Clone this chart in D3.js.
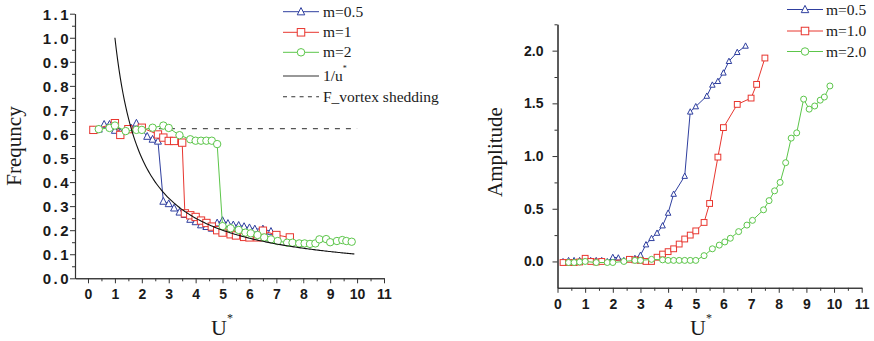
<!DOCTYPE html>
<html>
<head>
<meta charset="utf-8">
<script src="https://cdn.jsdelivr.net/npm/d3@7"></script>
<style>
  html, body { margin: 0; padding: 0; background: #fff; }
  svg { display: block; }
  .tick-lbl { font-family: "Liberation Sans", Arial, sans-serif; font-weight: bold; font-size: 14px; fill: #1a1a1a; }
  .serif { font-family: "Liberation Serif", "Times New Roman", serif; fill: #1a1a1a; }
</style>
</head>
<body>
<svg id="chart" width="874" height="341"></svg>
<script>
// ---- Frequency panel data (U* vs frequency) ----
const freqU_m05 = [0.2,0.4,0.6,0.8,1.0,1.2,1.6,1.8,2.2,2.4,2.6,
                   2.8,3.0,3.2,3.4,3.6,3.8,4.0,4.2,4.4,4.6,4.8,5.0,5.2,5.4,5.6,5.8,6.0,6.2,6.5,6.8];
const freq_m05  = [0.615,0.62,0.64,0.64,0.615,0.607,0.625,0.645,0.59,0.578,0.57,
                   0.32,0.31,0.292,0.275,0.265,0.245,0.235,0.222,0.215,0.208,0.23,0.24,0.228,0.222,0.22,0.215,0.21,0.205,0.205,0.195];
const freqU_m1  = [0.2,1.0,1.2,1.5,2.0,2.6,2.8,3.0,3.2,3.5,
                   3.6,3.8,4.0,4.2,4.4,4.6,4.8,5.0,5.3,5.5,5.8,6.0,6.3,6.5,7.0,7.5];
const freq_m1   = [0.617,0.645,0.596,0.62,0.626,0.598,0.585,0.571,0.571,0.564,
                   0.27,0.262,0.255,0.24,0.23,0.215,0.2,0.19,0.183,0.178,0.172,0.17,0.17,0.198,0.18,0.17];
const freqU_m2  = [0.4,0.8,1.0,1.4,1.8,2.0,2.4,2.8,3.0,3.4,3.8,4.0,4.2,4.4,4.6,4.8,
                   5.0,5.3,5.6,5.85,6.05,6.3,6.55,6.8,7.05,7.4,7.6,7.85,8.05,8.25,8.45,8.6,8.85,9.0,9.25,9.45,9.6,9.8];
const freq_m2   = [0.62,0.625,0.635,0.612,0.617,0.617,0.626,0.635,0.625,0.595,0.578,0.572,0.572,0.572,0.572,0.558,
                   0.217,0.208,0.201,0.19,0.187,0.18,0.17,0.162,0.155,0.148,0.148,0.145,0.145,0.143,0.145,0.162,0.163,0.15,0.155,0.159,0.155,0.152];
const vortexFreq = 0.622;          // F_vortex shedding level
const vortexRange = [1, 10];
const curveRange = [1, 9.9];       // extent of the 1/u* reference curve

// ---- Amplitude panel data (U* vs amplitude) ----
const ampU_m05 = [0.2,0.4,0.6,0.8,1.0,1.2,1.4,1.6,1.8,2.0,2.2,2.4,2.6,2.8,3.0,
                  3.2,3.4,3.6,3.8,4.0,4.2,4.6,4.8,5.0,5.4,5.6,5.8,6.0,6.2,6.5,6.8];
const amp_m05  = [0.0,0.01,0.01,0.01,0.02,0.01,0.01,0.01,0.0,0.04,0.035,0.01,0.02,0.03,0.06,
                  0.16,0.22,0.27,0.34,0.46,0.64,0.81,1.42,1.47,1.57,1.675,1.71,1.79,1.9,1.985,2.045];
const ampU_m1  = [0.2,0.4,0.6,0.8,1.0,1.2,1.4,1.6,
                  2.6,2.8,3.0,3.2,3.4,3.6,3.8,4.0,4.2,4.4,4.6,4.8,5.0,5.3,5.5,5.8,6.0,6.5,7.0,7.2,7.5];
const amp_m1   = [-0.01,-0.01,-0.01,-0.005,0.03,0.0,-0.005,0.0,
                  0.02,0.015,0.01,0.0,0.0,0.04,0.07,0.093,0.12,0.165,0.213,0.25,0.29,0.37,0.55,0.99,1.27,1.49,1.55,1.68,1.93];
const ampU_m2  = [0.4,0.6,0.8,1.0,1.4,1.8,2.0,2.4,2.8,3.0,3.4,3.8,4.0,4.2,4.4,4.6,4.8,5.0,
                  5.3,5.6,5.85,6.05,6.25,6.55,6.85,7.05,7.45,7.65,7.85,8.05,8.25,8.45,8.65,8.9,9.1,9.3,9.5,9.65,9.85];
const amp_m2   = [-0.01,-0.01,-0.005,0.0,-0.01,-0.01,-0.01,0.0,0.01,0.01,0.02,0.015,0.01,0.01,0.01,0.01,0.01,0.01,
                  0.055,0.12,0.155,0.185,0.22,0.283,0.345,0.39,0.49,0.577,0.67,0.75,0.937,1.17,1.22,1.54,1.445,1.475,1.53,1.56,1.665];

// ---- tick labels ----
const freqTicks = [0,0.1,0.2,0.3,0.4,0.5,0.6,0.7,0.8,0.9,1.0,1.1];
const ampTicks  = [0,0.5,1.0,1.5,2.0];
const uTicks    = [0,1,2,3,4,5,6,7,8,9,10,11];

const legendLeft  = ["m=0.5", "m=1", "m=2"];
const legendRight = ["m=0.5", "m=1.0", "m=2.0"];

const BLUE = "#2f3f9f", RED = "#e8362f", GREEN = "#5cc64a", AXIS = "#333";

const svg = d3.select("#chart");

// marker shapes
function marker(g, kind, x, y, s, color) {
  if (kind === "tri") {
    g.append("path")
      .attr("d", `M${x},${y - s * 0.55}L${x + s / 2},${y + s * 0.42}L${x - s / 2},${y + s * 0.42}Z`)
      .attr("fill", "#fff").attr("stroke", color).attr("stroke-width", 1);
  } else if (kind === "sq") {
    g.append("rect").attr("x", x - s / 2).attr("y", y - s / 2).attr("width", s).attr("height", s)
      .attr("fill", "#fff").attr("stroke", color).attr("stroke-width", 1);
  } else {
    g.append("circle").attr("cx", x).attr("cy", y).attr("r", s / 2)
      .attr("fill", "#fff").attr("stroke", color).attr("stroke-width", 1);
  }
}

function drawSeries(g, xs, ys, x, y, kind, size, color) {
  const pts = xs.map((u, i) => [u, ys[i]]);
  g.append("path")
    .attr("d", d3.line().x(d => x(d[0])).y(d => y(d[1]))(pts))
    .attr("fill", "none").attr("stroke", color).attr("stroke-width", 1);
  const mg = g.append("g");
  pts.forEach(d => marker(mg, kind, x(d[0]), y(d[1]), size, color));
}

function styleAxis(a) {
  a.select(".domain").attr("stroke", AXIS).attr("stroke-width", 1.1);
  a.selectAll(".tick line").attr("stroke", AXIS).attr("stroke-width", 1);
}

function halfSteps(lo, hi, step) {
  const out = [];
  for (let v = lo; v <= hi + 1e-9; v += step) out.push(+v.toFixed(3));
  return out;
}

// ================= Frequency panel =================
{
  const x = d3.scaleLinear().domain([-0.483, 11]).range([75, 384]);
  const y = d3.scaleLinear().domain([0, 1.1]).range([278.3, 13.7]);
  const g = svg.append("g");

  // minor ticks
  const xm = g.append("g").attr("transform", `translate(0,${y(0)})`)
    .call(d3.axisBottom(x).tickValues(halfSteps(0.5, 10.5, 1)).tickSize(3).tickSizeOuter(0).tickFormat(""));
  styleAxis(xm);
  const ym = g.append("g").attr("transform", `translate(${x.range()[0]},0)`)
    .call(d3.axisLeft(y).tickValues(halfSteps(0.05, 1.05, 0.1)).tickSize(3).tickSizeOuter(0).tickFormat(""));
  styleAxis(ym);

  const xa = g.append("g").attr("transform", `translate(0,${y(0)})`)
    .call(d3.axisBottom(x).tickValues(uTicks).tickSize(5).tickSizeOuter(0).tickPadding(6).tickFormat(d3.format("d")));
  styleAxis(xa);
  xa.selectAll("text").attr("class", "tick-lbl").attr("fill", null).attr("font-size", null).attr("font-family", null);

  const ya = g.append("g").attr("transform", `translate(${x.range()[0]},0)`)
    .call(d3.axisLeft(y).tickValues(freqTicks).tickSize(5).tickSizeOuter(0).tickPadding(1.5).tickFormat(d3.format(".1f")));
  styleAxis(ya);
  ya.selectAll("text").attr("class", "tick-lbl").attr("fill", null).attr("font-size", null).attr("font-family", null)
    .style("font-size", "15px").style("letter-spacing", "2.5px").attr("dx", "2.5").attr("dy", "0.36em");

  // vortex shedding frequency level
  g.append("line")
    .attr("x1", x(vortexRange[0])).attr("x2", x(vortexRange[1]))
    .attr("y1", y(vortexFreq)).attr("y2", y(vortexFreq))
    .attr("stroke", "#555").attr("stroke-width", 1.3).attr("stroke-dasharray", "5,6");

  drawSeries(g, freqU_m05, freq_m05, x, y, "tri", 7, BLUE);
  drawSeries(g, freqU_m1, freq_m1, x, y, "sq", 7.3, RED);
  drawSeries(g, freqU_m2, freq_m2, x, y, "circ", 7.4, GREEN);

  // 1/u* reference curve
  const us = d3.range(curveRange[0], curveRange[1] + 1e-9, 0.05);
  g.append("path")
    .attr("d", d3.line().x(u => x(u)).y(u => y(1 / u))(us))
    .attr("fill", "none").attr("stroke", "#111").attr("stroke-width", 1.1);

  // axis titles
  g.append("text").attr("class", "serif").attr("font-size", 21)
    .attr("transform", "translate(21,146) rotate(-90)").attr("text-anchor", "middle").text("Frequncy");
  const ut = g.append("text").attr("class", "serif").attr("x", 211).attr("y", 335).attr("font-size", 22);
  ut.append("tspan").text("U");
  ut.append("tspan").attr("font-size", 12).attr("dy", -13).text("*");

  // legend
  const lg = g.append("g");
  const rows = [11.7, 32.3, 52.3, 76, 96.7];
  const kinds = ["tri", "sq", "circ"], cols = [BLUE, RED, GREEN];
  legendLeft.forEach((name, i) => {
    lg.append("line").attr("x1", 283).attr("x2", 319).attr("y1", rows[i]).attr("y2", rows[i])
      .attr("stroke", cols[i]).attr("stroke-width", 1);
    marker(lg, kinds[i], 301, rows[i], 7.5, cols[i]);
    lg.append("text").attr("class", "serif").attr("font-size", 15.5).attr("x", 323).attr("y", rows[i] + 5).text(name);
  });
  lg.append("line").attr("x1", 283).attr("x2", 319).attr("y1", rows[3]).attr("y2", rows[3])
    .attr("stroke", "#333").attr("stroke-width", 1.1);
  const lt = lg.append("text").attr("class", "serif").attr("font-size", 15.5).attr("x", 323).attr("y", rows[3] + 5);
  lt.append("tspan").text("1/u");
  lt.append("tspan").attr("font-size", 8).attr("dy", -10).text("*");
  lg.append("line").attr("x1", 283).attr("x2", 319).attr("y1", rows[4]).attr("y2", rows[4])
    .attr("stroke", "#333").attr("stroke-width", 1.1).attr("stroke-dasharray", "4,4.3");
  lg.append("text").attr("class", "serif").attr("font-size", 15.5).attr("x", 323).attr("y", rows[4] + 5).text("F_vortex shedding");
}

// ================= Amplitude panel =================
{
  const x = d3.scaleLinear().domain([0, 11]).range([557.5, 861.7]);
  const y = d3.scaleLinear().domain([-0.25, 2.25]).range([287.8, 24.3]);
  const g = svg.append("g");

  const xm = g.append("g").attr("transform", `translate(0,${y.range()[0]})`)
    .call(d3.axisBottom(x).tickValues(halfSteps(0.5, 10.5, 1)).tickSize(3).tickSizeOuter(0).tickFormat(""));
  styleAxis(xm);
  const ym = g.append("g").attr("transform", `translate(${x.range()[0]},0)`)
    .call(d3.axisLeft(y).tickValues(halfSteps(0.25, 2.25, 0.5)).tickSize(3).tickSizeOuter(0).tickFormat(""));
  styleAxis(ym);

  const xa = g.append("g").attr("transform", `translate(0,${y.range()[0]})`)
    .call(d3.axisBottom(x).tickValues(uTicks).tickSize(5).tickSizeOuter(0).tickPadding(6).tickFormat(d3.format("d")));
  styleAxis(xa);
  xa.selectAll("text").attr("class", "tick-lbl").attr("fill", null).attr("font-size", null).attr("font-family", null);

  const ya = g.append("g").attr("transform", `translate(${x.range()[0]},0)`)
    .call(d3.axisLeft(y).tickValues(ampTicks).tickSize(5).tickSizeOuter(0).tickPadding(9).tickFormat(d3.format(".1f")));
  styleAxis(ya);
  ya.selectAll("text").attr("class", "tick-lbl").attr("fill", null).attr("font-size", null).attr("font-family", null);

  drawSeries(g, ampU_m05, amp_m05, x, y, "tri", 5.5, BLUE);
  drawSeries(g, ampU_m1, amp_m1, x, y, "sq", 5.8, RED);
  drawSeries(g, ampU_m2, amp_m2, x, y, "circ", 6, GREEN);

  g.append("text").attr("class", "serif").attr("font-size", 21)
    .attr("transform", "translate(502,152) rotate(-90)").attr("text-anchor", "middle").text("Amplitude");
  const ut = g.append("text").attr("class", "serif").attr("x", 690).attr("y", 335).attr("font-size", 22);
  ut.append("tspan").text("U");
  ut.append("tspan").attr("font-size", 12).attr("dy", -13).text("*");

  const lg = g.append("g");
  const rows = [9.5, 31, 51.5];
  const kinds = ["tri", "sq", "circ"], cols = [BLUE, RED, GREEN];
  legendRight.forEach((name, i) => {
    lg.append("line").attr("x1", 787).attr("x2", 823).attr("y1", rows[i]).attr("y2", rows[i])
      .attr("stroke", cols[i]).attr("stroke-width", 1);
    marker(lg, kinds[i], 805, rows[i], 7.5, cols[i]);
    lg.append("text").attr("class", "serif").attr("font-size", 15.5).attr("x", 826).attr("y", rows[i] + 5).text(name);
  });
}
</script>
</body>
</html>
